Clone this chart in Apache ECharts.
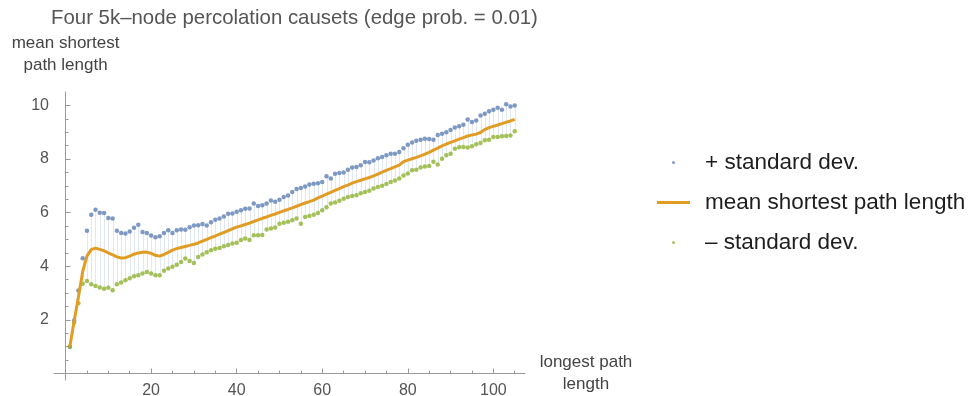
<!DOCTYPE html>
<html>
<head>
<meta charset="utf-8">
<script src="https://cdn.jsdelivr.net/npm/echarts@6/dist/echarts.min.js"></script>
<style>
  html, body { margin: 0; padding: 0; background: #fff; }
  #chart { width: 968px; height: 396px; }
</style>
</head>
<body>
<div id="chart"></div>
<script>
// Mean shortest path length (± one standard deviation) versus longest path length,
// for longest path lengths 1, 2, 3, ...
const upperSD = [
  1.0, 1.98, 3.1, 4.3, 5.33, 5.92, 6.11, 6.0, 5.99, 5.8,
  5.78, 5.33, 5.24, 5.22, 5.3, 5.44, 5.55, 5.28, 5.24, 5.15,
  5.08, 5.12, 5.24, 5.34, 5.24, 5.34, 5.37, 5.36, 5.46, 5.52,
  5.53, 5.58, 5.52, 5.64, 5.74, 5.78, 5.86, 5.96, 5.97, 6.03,
  6.09, 6.15, 6.16, 6.34, 6.25, 6.28, 6.34, 6.45, 6.41, 6.48,
  6.58, 6.64, 6.77, 6.88, 6.92, 6.98, 7.05, 7.08, 7.1, 7.14,
  7.36, 7.27, 7.45, 7.48, 7.5, 7.6, 7.68, 7.7, 7.77, 7.89,
  7.88, 7.95, 8.03, 8.08, 8.14, 8.2, 8.2, 8.26, 8.4,
  8.53, 8.62, 8.68, 8.72, 8.76, 8.75, 8.72, 8.9, 8.94, 9.0,
  9.08, 9.18, 9.22, 9.28, 9.47, 9.38, 9.44, 9.62, 9.69, 9.78,
  9.84, 9.91, 9.84, 10.04, 9.96, 10.0
];
const meanPath = [
  1.0, 1.95, 2.85, 3.8, 4.38, 4.62, 4.68, 4.63, 4.58, 4.5,
  4.43, 4.35, 4.31, 4.32, 4.38, 4.45, 4.5, 4.52, 4.53, 4.48,
  4.41, 4.38, 4.44, 4.52, 4.6, 4.66, 4.7, 4.74, 4.78, 4.82,
  4.87, 4.94, 5.0, 5.07, 5.13, 5.2, 5.26, 5.33, 5.4, 5.46,
  5.51, 5.56, 5.61, 5.67, 5.73, 5.79, 5.84, 5.9, 5.95, 6.01,
  6.07, 6.12, 6.18, 6.24, 6.3, 6.36, 6.41, 6.47, 6.55, 6.62,
  6.69, 6.76, 6.83, 6.9, 6.97, 7.03, 7.1, 7.16, 7.21, 7.26,
  7.31, 7.37, 7.44, 7.51, 7.58, 7.64, 7.71, 7.77, 7.9,
  7.96, 8.01, 8.06, 8.12, 8.18, 8.25, 8.33, 8.41, 8.49, 8.56,
  8.62, 8.68, 8.74, 8.8, 8.86, 8.9, 8.93, 8.99, 9.1, 9.17,
  9.22, 9.27, 9.32, 9.37, 9.42, 9.48
];
const lowerSD = [
  1.0, 1.9, 2.62, 3.35, 3.45, 3.33, 3.27, 3.21, 3.16, 3.2,
  3.11, 3.33, 3.4, 3.48, 3.55, 3.63, 3.67, 3.73, 3.79, 3.73,
  3.67, 3.67, 3.83, 3.92, 3.98, 4.06, 4.16, 4.29, 4.2, 4.12,
  4.35, 4.44, 4.52, 4.6, 4.65, 4.68, 4.75, 4.79, 4.85, 4.88,
  4.98, 5.04, 4.98, 5.16, 5.16, 5.17, 5.37, 5.41, 5.45, 5.59,
  5.62, 5.66, 5.72, 5.78, 5.59, 5.84, 5.88, 5.92, 5.99, 6.09,
  6.2, 6.34, 6.38, 6.44, 6.52, 6.58, 6.62, 6.65, 6.72, 6.77,
  6.82, 6.9, 6.96, 7.0, 7.07, 7.14, 7.2, 7.27, 7.39,
  7.46, 7.58, 7.6, 7.68, 7.72, 7.74, 7.9, 7.8, 8.01, 8.14,
  8.2, 8.38, 8.44, 8.45, 8.43, 8.48, 8.55, 8.6, 8.7, 8.72,
  8.82, 8.82, 8.85, 8.86, 8.88, 9.04
];

const xTickLabels = [20, 40, 60, 80, 100];
const xMinorTicks = [5, 10, 15, 25, 30, 35, 45, 50, 55, 65, 70, 75, 85, 90, 95, 105];
const yTickLabels = [2, 4, 6, 8, 10];
const yMinorTicks = [0.5, 1, 1.5, 2.5, 3, 3.5, 4.5, 5, 5.5, 6.5, 7, 7.5, 8.5, 9, 9.5];

const seriesNames = ['+ standard dev.', 'mean shortest path length', '\u2013 standard dev.'];

// longest path length of each sample: 1, 2, 3, ...
const lengths = meanPath.map((_, i) => i + 1);

const upperPts = lengths.map((x, i) => [x, upperSD[i]]);
const meanPts = lengths.map((x, i) => [x, meanPath[i]]);
const lowerPts = lengths.map((x, i) => [x, lowerSD[i]]);
const bandPts = lengths.map((x, i) => [x, upperSD[i], lowerSD[i]]);

const FONT = '"Liberation Sans", Arial, Helvetica, sans-serif';
const BLUE = '#5e81b5';
const ORANGE = '#e19c24';
const GREEN = '#8fb131';
const AXIS = '#9a9a9a';

const X_MIN = -2.7, X_MAX = 107.4, Y_MIN = -0.24, Y_MAX = 10.5;

const chart = echarts.init(document.getElementById('chart'), null, { renderer: 'canvas' });

chart.setOption({
  animation: false,
  backgroundColor: '#fff',
  textStyle: { fontFamily: FONT },
  title: {
    text: 'Four 5k\u2013node percolation causets (edge prob. = 0.01)',
    left: 51,
    top: 8,
    padding: 0,
    textStyle: { fontFamily: FONT, fontSize: 20.4, fontWeight: 'normal', color: '#555' }
  },
  legend: {
    orient: 'vertical',
    left: 657,
    top: 151,
    padding: 0,
    itemWidth: 33,
    itemHeight: 3,
    itemGap: 17,
    selectedMode: false,
    textStyle: { fontFamily: FONT, fontSize: 22.5, color: '#1e1e1e', lineHeight: 22, padding: [0, 0, 0, 10] },
    data: [
      { name: seriesNames[0], icon: 'circle', itemStyle: { color: BLUE } },
      { name: seriesNames[1], icon: 'rect', itemStyle: { color: ORANGE } },
      { name: seriesNames[2], icon: 'circle', itemStyle: { color: GREEN } }
    ]
  },
  grid: { left: 54, top: 92, width: 471, height: 288, outerBoundsMode: 'none' },
  xAxis: [
    {
      type: 'value', min: X_MIN, max: X_MAX,
      name: 'longest path\nlength',
      nameLocation: 'end',
      nameGap: 61,
      nameTextStyle: { fontFamily: FONT, fontSize: 17, color: '#444', lineHeight: 22, align: 'center', verticalAlign: 'middle' },
      axisLine: { onZero: true, onZeroAxisIndex: 0, lineStyle: { color: AXIS, width: 1 } },
      axisTick: { show: true, inside: true, length: 5, customValues: xTickLabels, lineStyle: { color: AXIS } },
      axisLabel: { customValues: xTickLabels, margin: 3, fontFamily: FONT, fontSize: 16, color: '#555' },
      splitLine: { show: false }
    },
    {
      // minor ticks every 5
      type: 'value', min: X_MIN, max: X_MAX, position: 'bottom',
      axisLine: { show: false, onZero: true, onZeroAxisIndex: 0 },
      axisTick: { show: true, inside: true, length: 3, customValues: xMinorTicks, lineStyle: { color: AXIS } },
      axisLabel: { show: false },
      splitLine: { show: false }
    }
  ],
  yAxis: [
    {
      type: 'value', min: Y_MIN, max: Y_MAX,
      name: 'mean shortest\npath length',
      nameLocation: 'end',
      nameGap: 16,
      nameTextStyle: { fontFamily: FONT, fontSize: 17, color: '#444', lineHeight: 22, align: 'center' },
      axisLine: { onZero: true, onZeroAxisIndex: 0, lineStyle: { color: AXIS, width: 1 } },
      axisTick: { show: true, inside: true, length: 5, customValues: yTickLabels, lineStyle: { color: AXIS } },
      axisLabel: { customValues: yTickLabels, margin: 5, fontFamily: FONT, fontSize: 16, color: '#555' },
      splitLine: { show: false }
    },
    {
      // minor ticks every 0.5
      type: 'value', min: Y_MIN, max: Y_MAX, position: 'left',
      axisLine: { show: false, onZero: true, onZeroAxisIndex: 0 },
      axisTick: { show: true, inside: true, length: 3, customValues: yMinorTicks, lineStyle: { color: AXIS } },
      axisLabel: { show: false },
      splitLine: { show: false }
    }
  ],
  series: [
    {
      // thin vertical lines spanning the ± standard deviation band
      type: 'custom',
      name: 'band',
      xAxisIndex: 0, yAxisIndex: 0,
      silent: true,
      z: 1,
      data: bandPts,
      encode: { x: 0, y: [1, 2] },
      renderItem: function (params, api) {
        const top = api.coord([api.value(0), api.value(1)]);
        const bot = api.coord([api.value(0), api.value(2)]);
        const x = Math.round(top[0]) + 0.5;
        return {
          type: 'line',
          shape: { x1: x, y1: top[1], x2: x, y2: bot[1] },
          style: { stroke: 'rgba(94,129,181,0.18)', lineWidth: 1 }
        };
      }
    },
    {
      type: 'scatter',
      name: seriesNames[0],
      xAxisIndex: 0, yAxisIndex: 0,
      data: upperPts,
      symbol: 'circle',
      symbolSize: 4.5,
      itemStyle: { color: BLUE },
      z: 3
    },
    {
      type: 'line',
      name: seriesNames[1],
      xAxisIndex: 0, yAxisIndex: 0,
      data: meanPts,
      showSymbol: false,
      lineStyle: { color: ORANGE, width: 3 },
      itemStyle: { color: ORANGE },
      z: 4
    },
    {
      type: 'scatter',
      name: seriesNames[2],
      xAxisIndex: 0, yAxisIndex: 0,
      data: lowerPts,
      symbol: 'circle',
      symbolSize: 4.5,
      itemStyle: { color: GREEN },
      z: 3
    }
  ]
});
</script>
</body>
</html>
